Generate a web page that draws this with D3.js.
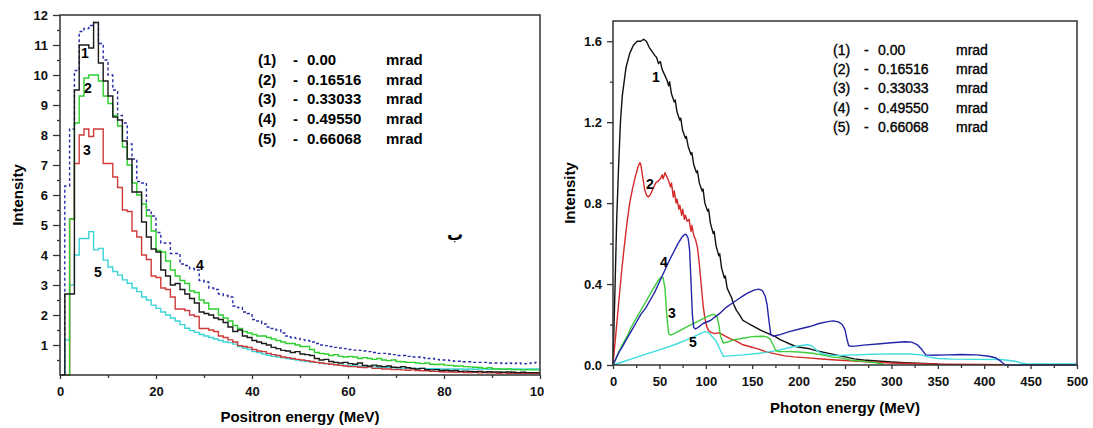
<!DOCTYPE html>
<html>
<head>
<meta charset="utf-8">
<script src="https://cdn.jsdelivr.net/npm/d3@7"></script>
<style>
  body { margin: 0; background: #fff; }
  svg { display: block; font-family: Arial, "Liberation Sans", sans-serif; }
</style>
</head>
<body>
<svg id="chart" width="1093" height="428"></svg>
<script>
// ---- left panel: positron spectra, 1 MeV bins starting at 0 ----
let positronBinStart = d3.range(0, 100);
let positronTicks = [0, 20, 40, 60, 80, 100];
let intensityTicksL = [1, 2, 3, 4, 5, 6, 7, 8, 9, 10, 11, 12];

let pos1 = [0, 2.7, 2.7, 9.5, 11.0, 11.0, 10.9, 11.75, 10.4, 9.8,
  9.3, 8.6, 8.5, 7.8, 7.2, 6.1, 6.1, 5.1, 4.6, 4.2,
  4.1, 3.5, 3.3, 3.0, 3.05, 2.85, 2.7, 2.55, 2.4, 2.1,
  2.05, 2.0, 1.9, 1.85, 1.75, 1.6, 1.45, 1.5, 1.3, 1.25,
  1.15, 1.1, 1.05, 1.0, 0.92, 0.88, 0.82, 0.8, 0.75, 0.78,
  0.7, 0.68, 0.65, 0.55, 0.5, 0.52, 0.45, 0.42, 0.4, 0.42,
  0.38, 0.36, 0.4, 0.32, 0.3, 0.33, 0.3, 0.28, 0.3, 0.26,
  0.25, 0.28, 0.24, 0.22, 0.2, 0.22, 0.18, 0.17, 0.18, 0.15,
  0.16, 0.14, 0.15, 0.12, 0.13, 0.12, 0.11, 0.12, 0.1, 0.11,
  0.1, 0.1, 0.09, 0.1, 0.09, 0.08, 0.09, 0.08, 0.08, 0.08];

let pos2 = [0, 0, 5.2, 8.4, 9.3, 9.9, 10.0, 10.0, 9.8, 9.3,
  9.05, 8.65, 8.3, 7.6, 7.0, 6.4, 6.0, 5.7, 5.3, 4.8,
  4.15, 4.1, 3.8, 3.5, 3.3, 3.15, 3.05, 2.8, 2.75, 2.5,
  2.4, 2.2, 2.2, 2.0, 1.9, 1.8, 1.65, 1.55, 1.45, 1.4,
  1.35, 1.3, 1.3, 1.25, 1.2, 1.15, 1.1, 1.05, 1.05, 1.0,
  0.95, 0.95, 0.85, 0.75, 0.72, 0.7, 0.65, 0.68, 0.62, 0.6,
  0.62, 0.6, 0.55, 0.58, 0.55, 0.52, 0.55, 0.5, 0.48, 0.5,
  0.45, 0.44, 0.42, 0.42, 0.4, 0.38, 0.4, 0.36, 0.35, 0.36,
  0.33, 0.32, 0.3, 0.3, 0.28, 0.27, 0.26, 0.25, 0.22, 0.24,
  0.2, 0.2, 0.19, 0.2, 0.18, 0.18, 0.17, 0.18, 0.17, 0.17];

let pos3 = [0, 0, 5.2, 7.05, 8.0, 8.2, 7.95, 8.2, 8.2, 7.05,
  7.05, 6.6, 6.25, 5.5, 5.45, 4.8, 4.6, 4.0, 3.85, 3.3,
  3.25, 2.9, 2.85, 2.6, 2.2, 2.2, 2.15, 2.0, 1.95, 1.55,
  1.55, 1.5, 1.45, 1.3, 1.25, 1.17, 1.1, 0.98, 0.95, 0.92,
  0.85, 0.8, 0.78, 0.72, 0.68, 0.65, 0.6, 0.58, 0.55, 0.52,
  0.5, 0.48, 0.45, 0.42, 0.4, 0.38, 0.36, 0.34, 0.32, 0.3,
  0.28, 0.28, 0.26, 0.25, 0.27, 0.22, 0.22, 0.2, 0.2, 0.18,
  0.18, 0.17, 0.16, 0.17, 0.15, 0.14, 0.14, 0.12, 0.12, 0.11,
  0.1, 0.1, 0.09, 0.1, 0.08, 0.08, 0.09, 0.07, 0.08, 0.07,
  0.07, 0.06, 0.07, 0.06, 0.06, 0.06, 0.05, 0.06, 0.05, 0.05];

let pos4 = [0, 6.3, 8.2, 10.15, 11.45, 11.55, 11.65, 11.75, 11.05, 10.5,
  10.0, 9.5, 8.65, 8.4, 7.7, 7.2, 6.45, 6.4, 5.5, 5.3,
  4.75, 4.4, 4.4, 4.05, 4.05, 3.7, 3.65, 3.55, 3.5, 3.15,
  3.1, 2.9, 2.85, 2.7, 2.65, 2.6, 2.3, 2.25, 2.1, 2.05,
  1.85, 1.8, 1.7, 1.6, 1.55, 1.5, 1.4, 1.3, 1.25, 1.22,
  1.18, 1.15, 1.1, 1.05, 1.0, 0.98, 0.95, 0.92, 0.9, 0.88,
  0.85, 0.83, 0.82, 0.8, 0.78, 0.75, 0.72, 0.72, 0.7, 0.68,
  0.65, 0.65, 0.62, 0.6, 0.6, 0.58, 0.55, 0.55, 0.52, 0.5,
  0.5, 0.48, 0.46, 0.46, 0.44, 0.44, 0.42, 0.42, 0.42, 0.4,
  0.4, 0.4, 0.38, 0.4, 0.38, 0.4, 0.37, 0.38, 0.4, 0.42];

let pos5 = [0, 1.17, 3.0, 4.0, 4.55, 4.55, 4.78, 4.17, 4.22, 3.83,
  3.6, 3.45, 3.33, 3.17, 3.06, 2.9, 2.78, 2.6, 2.5, 2.33,
  2.22, 2.1, 2.0, 1.9, 1.8, 1.68, 1.56, 1.48, 1.42, 1.35,
  1.3, 1.25, 1.2, 1.15, 1.1, 1.08, 1.03, 0.95, 0.9, 0.85,
  0.78, 0.75, 0.7, 0.66, 0.62, 0.6, 0.58, 0.55, 0.52, 0.5,
  0.47, 0.45, 0.43, 0.42, 0.4, 0.38, 0.36, 0.35, 0.33, 0.32,
  0.31, 0.3, 0.29, 0.28, 0.27, 0.27, 0.26, 0.25, 0.25, 0.24,
  0.24, 0.23, 0.23, 0.22, 0.22, 0.22, 0.21, 0.21, 0.21, 0.2,
  0.2, 0.2, 0.2, 0.2, 0.19, 0.2, 0.19, 0.2, 0.2, 0.19,
  0.2, 0.2, 0.19, 0.2, 0.2, 0.2, 0.19, 0.2, 0.2, 0.2];

// ---- right panel: photon spectra, [energy MeV, intensity] ----
let photonTicks = [0, 50, 100, 150, 200, 250, 300, 350, 400, 450, 500];
let intensityTicksR = [0, 0.4, 0.8, 1.2, 1.6];

let pho1 = [[0,0],[2,0.35],[4,0.72],[6,0.98],[8,1.2],[10,1.33],[14,1.47],[18,1.54],[22,1.58],[26,1.6],
  [30,1.6],[33,1.61],[36,1.6],[39,1.57],[42,1.55],[45,1.53],[47,1.52],[49,1.49],[51,1.5],[53,1.46],
  [56,1.43],[58,1.41],[60,1.38],[61,1.4],[63,1.34],[66,1.3],[67,1.31],[69,1.25],[72,1.21],[73,1.22],
  [75,1.16],[78,1.12],[79,1.13],[81,1.08],[84,1.04],[85,1.05],[87,0.99],[90,0.95],[91,0.96],[93,0.9],
  [96,0.86],[97,0.87],[99,0.8],[102,0.76],[103,0.77],[105,0.7],[108,0.65],[109,0.66],[111,0.59],[114,0.54],
  [115,0.55],[117,0.48],[120,0.43],[121,0.44],[123,0.38],[126,0.35],[128,0.33],[130,0.3],[133,0.27],[136,0.25],
  [140,0.22],[144,0.21],[148,0.2],[152,0.19],[156,0.18],[160,0.17],[165,0.16],[170,0.15],[175,0.14],[180,0.125],
  [185,0.115],[190,0.105],[198,0.09],[205,0.085],[212,0.08],[220,0.07],[230,0.06],[240,0.05],[250,0.04],[260,0.03],
  [270,0.025],[285,0.02],[300,0.015],[320,0.01],[350,0.005]];

let pho2 = [[0,0],[3,0.15],[6,0.3],[9,0.45],[12,0.58],[15,0.7],[18,0.8],[21,0.87],[24,0.93],[27,0.98],
  [29,1.0],[30,0.99],[32,0.93],[34,0.87],[36,0.84],[38,0.83],[40,0.84],[43,0.87],[46,0.9],[49,0.91],
  [51,0.92],[53,0.94],[54,0.92],[56,0.95],[58,0.93],[60,0.91],[62,0.88],[63,0.9],[65,0.83],[66,0.86],
  [68,0.8],[69,0.82],[71,0.77],[72,0.79],[74,0.74],[75,0.77],[77,0.72],[78,0.74],[80,0.71],[82,0.72],
  [84,0.66],[85,0.69],[87,0.64],[89,0.62],[91,0.58],[93,0.5],[95,0.4],[97,0.3],[99,0.23],[101,0.19],
  [103,0.17],[106,0.16],[110,0.155],[114,0.16],[118,0.15],[122,0.14],[126,0.13],[132,0.12],[140,0.1],[148,0.09],
  [156,0.08],[165,0.065],[175,0.055],[185,0.045],[195,0.04],[210,0.035],[225,0.03],[240,0.025],[260,0.02],[280,0.015],
  [300,0.01],[330,0.006],[360,0.004],[400,0.003],[420,0.002]];

let pho3 = [[0,0],[3,0.03],[6,0.06],[10,0.1],[15,0.14],[20,0.19],[25,0.23],[30,0.27],[35,0.31],[40,0.35],
  [45,0.39],[49,0.42],[52,0.435],[54,0.43],[56,0.38],[58,0.24],[60,0.155],[62,0.148],[66,0.155],[72,0.17],
  [80,0.19],[87,0.206],[94,0.222],[101,0.238],[106,0.248],[109,0.25],[112,0.24],[114,0.2],[116,0.14],[119,0.108],
  [124,0.115],[130,0.124],[140,0.132],[150,0.14],[160,0.142],[165,0.14],[169,0.13],[172,0.105],[175,0.075],[178,0.066],
  [190,0.066],[200,0.064],[215,0.058],[225,0.05],[235,0.04],[245,0.035],[255,0.025],[270,0.018],[285,0.01],[292,0.003]];

let pho4 = [[0,0],[3,0.03],[6,0.06],[10,0.09],[15,0.13],[20,0.17],[25,0.21],[30,0.25],[35,0.28],[40,0.32],
  [45,0.36],[50,0.41],[55,0.46],[60,0.51],[65,0.555],[70,0.6],[74,0.63],[77,0.645],[79,0.645],[81,0.625],
  [82.5,0.57],[84,0.42],[85.5,0.25],[87,0.185],[89,0.178],[93,0.19],[97,0.205],[105,0.22],[115,0.255],[122,0.285],
  [130,0.31],[138,0.335],[145,0.355],[152,0.37],[157,0.375],[161,0.368],[164,0.34],[166,0.3],[168,0.22],[170,0.15],
  [173,0.142],[180,0.15],[190,0.165],[201,0.178],[212,0.19],[222,0.205],[230,0.213],[237,0.218],[243,0.213],[247,0.2],
  [250,0.175],[252,0.13],[254,0.095],[258,0.092],[270,0.098],[285,0.104],[300,0.11],[315,0.115],[322,0.113],[328,0.1],
  [333,0.075],[337,0.05],[345,0.048],[360,0.05],[375,0.052],[392,0.05],[405,0.043],[412,0.036],[417,0.022],[420,0.01],
  [423,0],[500,0]];

let pho5 = [[0,0],[10,0.015],[20,0.03],[33,0.05],[50,0.075],[60,0.09],[69,0.105],[80,0.125],[87,0.14],[94,0.155],
  [99,0.165],[103,0.16],[107,0.14],[111,0.12],[115,0.08],[119,0.042],[122,0.044],[140,0.05],[158,0.058],[175,0.07],
  [194,0.09],[209,0.1],[214,0.095],[219,0.075],[224,0.058],[232,0.048],[245,0.047],[260,0.05],[280,0.053],[300,0.055],
  [320,0.054],[332,0.05],[340,0.04],[350,0.032],[366,0.029],[390,0.028],[418,0.027],[432,0.02],[440,0.01],[446,0.005],
  [500,0.005]];

let legendIds = ['(1)', '(2)', '(3)', '(4)', '(5)'];
let legendAngles = ['0.00', '0.16516', '0.33033', '0.49550', '0.66068'];

let svg = d3.select('#chart');
let frameColor = '#333';

// ---------- left panel ----------
let xL = d3.scaleLinear().domain([0, 100]).range([60, 540]);
let yL = d3.scaleLinear().domain([0, 12]).range([375, 15]);

let left = svg.append('g');

svg.append('defs').append('clipPath').attr('id', 'cutRight')
  .append('rect').attr('x', 0).attr('y', 0).attr('width', 544).attr('height', 428);

function styleAxis(g, size) {
  g.select('.domain').remove();
  g.selectAll('line').attr('stroke', frameColor).attr('stroke-width', 1.3);
  g.selectAll('text')
    .attr('font-size', size)
    .attr('font-weight', 'bold')
    .attr('font-family', 'Arial, "Liberation Sans", sans-serif')
    .attr('fill', '#111');
}

left.append('g')
  .attr('transform', 'translate(0,375)')
  .call(d3.axisBottom(xL).tickValues([10, 30, 50, 70, 90]).tickSize(3).tickFormat(''))
  .call(g => styleAxis(g, 13));
left.append('g')
  .attr('transform', 'translate(0,375)')
  .attr('clip-path', 'url(#cutRight)')
  .call(d3.axisBottom(xL).tickValues(positronTicks).tickSize(4).tickPadding(8).tickFormat(d3.format('d')))
  .call(g => styleAxis(g, 13));
left.append('g')
  .attr('transform', 'translate(60,0)')
  .call(d3.axisLeft(yL).tickValues(d3.range(0.5, 12, 1)).tickSize(3).tickFormat(''))
  .call(g => styleAxis(g, 13));
left.append('g')
  .attr('transform', 'translate(60,0)')
  .call(d3.axisLeft(yL).tickValues(intensityTicksL).tickSize(7).tickPadding(5).tickFormat(d3.format('d')))
  .call(g => styleAxis(g, 13));

let stepLine = d3.line()
  .x(d => xL(d[0]))
  .y(d => yL(d[1]))
  .curve(d3.curveStepAfter);

function histPoints(values) {
  let pts = positronBinStart.map((e, i) => [e, values[i]]);
  pts.push([100, values[values.length - 1]]);
  return pts;
}

let leftSeries = [
  { v: pos4, color: '#2b2fa8', dash: '3,2.5' },
  { v: pos5, color: '#3ad3d6', dash: null },
  { v: pos3, color: '#cf3b3b', dash: null },
  { v: pos2, color: '#2fcf2f', dash: null },
  { v: pos1, color: '#1a1a1a', dash: null }
];

left.selectAll('path.hist')
  .data(leftSeries)
  .join('path')
  .attr('class', 'hist')
  .attr('d', d => stepLine(histPoints(d.v)))
  .attr('fill', 'none')
  .attr('stroke', d => d.color)
  .attr('stroke-width', 1.4)
  .attr('stroke-dasharray', d => d.dash);

left.append('rect')
  .attr('x', 60).attr('y', 15).attr('width', 480).attr('height', 360)
  .attr('fill', 'none').attr('stroke', frameColor).attr('stroke-width', 1.5);

left.append('text')
  .attr('x', 300).attr('y', 422)
  .attr('text-anchor', 'middle')
  .attr('font-size', 15).attr('font-weight', 'bold')
  .text('Positron energy (MeV)');

left.append('text')
  .attr('transform', 'translate(23,195) rotate(-90)')
  .attr('text-anchor', 'middle')
  .attr('font-size', 15).attr('font-weight', 'bold')
  .text('Intensity');

let leftLabels = [['1', 85, 58], ['2', 88, 93], ['3', 87, 155], ['4', 200, 270], ['5', 98, 277]];
left.selectAll('text.clabel')
  .data(leftLabels)
  .join('text')
  .attr('class', 'clabel')
  .attr('x', d => d[1]).attr('y', d => d[2])
  .attr('text-anchor', 'middle')
  .attr('font-size', 14).attr('font-weight', 'bold')
  .text(d => d[0]);

left.append('text')
  .attr('x', 455).attr('y', 240)
  .attr('text-anchor', 'middle')
  .attr('font-size', 16).attr('font-weight', 'bold')
  .attr('font-family', '"DejaVu Sans", sans-serif')
  .text('ب');

let legL = left.selectAll('g.leg')
  .data(legendIds)
  .join('g')
  .attr('class', 'leg')
  .attr('font-size', 15).attr('font-weight', 'bold');
legL.append('text').attr('x', 258).attr('y', (d, i) => 65 + i * 19.7).text(d => d);
legL.append('text').attr('x', 293).attr('y', (d, i) => 65 + i * 19.7).text('-');
legL.append('text').attr('x', 307).attr('y', (d, i) => 65 + i * 19.7).text((d, i) => legendAngles[i]);
legL.append('text').attr('x', 386).attr('y', (d, i) => 65 + i * 19.7).text('mrad');

// ---------- right panel ----------
let xR = d3.scaleLinear().domain([0, 500]).range([613, 1077]);
let yR = d3.scaleLinear().domain([0, 1.7]).range([365, 21]);

let right = svg.append('g');

right.append('g')
  .attr('transform', 'translate(0,365)')
  .call(d3.axisBottom(xR).tickValues(d3.range(25, 500, 50)).tickSize(3).tickFormat(''))
  .call(g => styleAxis(g, 13));
right.append('g')
  .attr('transform', 'translate(0,365)')
  .call(d3.axisBottom(xR).tickValues(photonTicks).tickSize(4).tickPadding(8).tickFormat(d3.format('d')))
  .call(g => styleAxis(g, 13));
right.append('g')
  .attr('transform', 'translate(613,0)')
  .call(d3.axisLeft(yR).tickValues([0.2, 0.6, 1.0, 1.4]).tickSize(3).tickFormat(''))
  .call(g => styleAxis(g, 13));
right.append('g')
  .attr('transform', 'translate(613,0)')
  .call(d3.axisLeft(yR).tickValues(intensityTicksR).tickSize(6).tickPadding(5).tickFormat(d3.format('.1f')))
  .call(g => styleAxis(g, 13));

let smoothLine = d3.line()
  .x(d => xR(d[0]))
  .y(d => yR(d[1]));

let rightSeries = [
  { v: pho1, color: '#111111' },
  { v: pho2, color: '#d42a2a' },
  { v: pho5, color: '#3fdcdc' },
  { v: pho3, color: '#3ccc3c' },
  { v: pho4, color: '#2424a8' }
];

right.selectAll('path.spec')
  .data(rightSeries)
  .join('path')
  .attr('class', 'spec')
  .attr('d', d => smoothLine(d.v))
  .attr('fill', 'none')
  .attr('stroke', d => d.color)
  .attr('stroke-width', 1.4)
  .attr('stroke-linejoin', 'round');

right.append('rect')
  .attr('x', 613).attr('y', 21).attr('width', 464).attr('height', 344)
  .attr('fill', 'none').attr('stroke', frameColor).attr('stroke-width', 1.5);

right.append('text')
  .attr('x', 845).attr('y', 413)
  .attr('text-anchor', 'middle')
  .attr('font-size', 15).attr('font-weight', 'bold')
  .text('Photon energy (MeV)');

right.append('text')
  .attr('transform', 'translate(575,193) rotate(-90)')
  .attr('text-anchor', 'middle')
  .attr('font-size', 15).attr('font-weight', 'bold')
  .text('Intensity');

let rightLabels = [['1', 656, 82], ['2', 650, 189], ['4', 664, 267], ['3', 672, 318], ['5', 693, 347]];
right.selectAll('text.clabel')
  .data(rightLabels)
  .join('text')
  .attr('class', 'clabel')
  .attr('x', d => d[1]).attr('y', d => d[2])
  .attr('text-anchor', 'middle')
  .attr('font-size', 14).attr('font-weight', 'bold')
  .text(d => d[0]);

let legR = right.selectAll('g.leg')
  .data(legendIds)
  .join('g')
  .attr('class', 'leg')
  .attr('font-size', 14)
  .attr('stroke', '#000').attr('stroke-width', 0.35);
legR.append('text').attr('x', 833).attr('y', (d, i) => 55 + i * 19.2).text(d => d);
legR.append('text').attr('x', 864).attr('y', (d, i) => 55 + i * 19.2).text('-');
legR.append('text').attr('x', 878).attr('y', (d, i) => 55 + i * 19.2).text((d, i) => legendAngles[i]);
legR.append('text').attr('x', 956).attr('y', (d, i) => 55 + i * 19.2).text('mrad');
</script>
</body>
</html>
